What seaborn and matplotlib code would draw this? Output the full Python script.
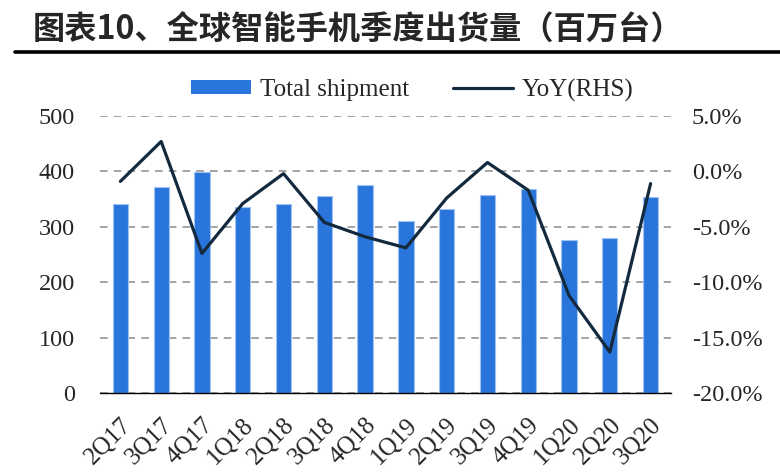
import numpy as np
import pandas as pd
import matplotlib
matplotlib.use("Agg")
import matplotlib.pyplot as plt
import seaborn as sns
from matplotlib.lines import Line2D
from matplotlib.patches import Patch
from matplotlib.ticker import FuncFormatter

quarters = ["2Q17", "3Q17", "4Q17", "1Q18", "2Q18", "3Q18", "4Q18",
            "1Q19", "2Q19", "3Q19", "4Q19", "1Q20", "2Q20", "3Q20"]
shipment = [342, 372, 399, 335, 342, 355, 375, 310, 333, 358, 369, 276, 279, 354]
yoy = [-0.9, 2.7, -7.4, -2.9, -0.2, -4.6, -5.9, -6.9, -2.4, 0.8, -1.7, -11.2, -16.3, -1.1]
left_ticks = [0, 100, 200, 300, 400, 500]
right_ticks = [-20, -15, -10, -5, 0, 5]
title = "图表10、全球智能手机季度出货量（百万台）"

sns.set_style("white")
plt.rcParams["font.family"] = ["Liberation Serif", "DejaVu Serif"]

bar_color = "#2A75DB"
line_color = "#132A3E"

df = pd.DataFrame({"quarter": quarters, "shipment": shipment, "yoy": yoy})

fig = plt.figure(figsize=(7.8, 4.76), dpi=100)
ax = fig.add_axes([100/780, (476-393)/476, (671-100)/780, (393-116)/476])

sns.barplot(data=df, x="quarter", y="shipment", ax=ax, color=bar_color,
            width=0.375, edgecolor="#9EC3F0", linewidth=0.8, saturation=1)
ax.set_xlim(-0.5, len(quarters) - 0.5)
ax.set_ylim(0, 500)
ax.set_yticks(left_ticks)
ax.yaxis.grid(True, linestyle=(0, (5, 4)), color="#8C8C8C", linewidth=1.1)
ax.set_axisbelow(True)
for s in ["top", "right", "left"]:
    ax.spines[s].set_visible(False)
ax.spines["bottom"].set_color("black")
ax.spines["bottom"].set_linewidth(1.0)
ax.set_xlabel("")
ax.set_ylabel("")
ax.tick_params(axis="y", length=0, pad=18, labelsize=17.5)
ax.tick_params(axis="x", which="major", length=0, pad=15, labelsize=18)
ax.set_xticks(np.arange(-0.5, len(quarters)), minor=True)
ax.tick_params(axis="x", which="minor", length=6, width=1.0, color="black", direction="out")
for lab in ax.get_xticklabels():
    lab.set_rotation(45)
    lab.set_ha("right")
    lab.set_va("top")
    lab.set_rotation_mode("anchor")

ax2 = ax.twinx()
sns.lineplot(data=df, x="quarter", y="yoy", ax=ax2, color=line_color,
             linewidth=2.3, sort=False)
ax2.set_ylim(-20, 5)
ax2.set_yticks(right_ticks)
ax2.yaxis.set_major_formatter(FuncFormatter(lambda v, p: f"{v:.1f}%"))
for s in ["top", "right", "left", "bottom"]:
    ax2.spines[s].set_visible(False)
ax2.set_ylabel("")
ax2.set_xlabel("")
ax2.tick_params(axis="y", length=0, pad=15, labelsize=17.5)
ax2.set_xlim(-0.5, len(quarters) - 0.5)

handles = [Patch(facecolor=bar_color, edgecolor="none"),
           Line2D([0], [0], color=line_color, linewidth=2.3)]
fig.legend(handles, ["Total shipment", "YoY(RHS)"], loc="center",
           bbox_to_anchor=(412/780, 1 - 90/476), ncol=2, frameon=False,
           fontsize=18, handlelength=2.4, handleheight=0.5, columnspacing=1.75,
           handletextpad=0.35)

fig.text(33/780, 1 - 30/476, title, fontsize=23.2, fontweight="bold",
         family=["Noto Sans CJK SC", "DejaVu Sans"], ha="left", va="center")
fig.add_artist(Line2D([15/780, 1.0], [1 - 52/476, 1 - 52/476], color="black",
                      linewidth=2.6, transform=fig.transFigure))

fig.savefig("out.png", dpi=100)
